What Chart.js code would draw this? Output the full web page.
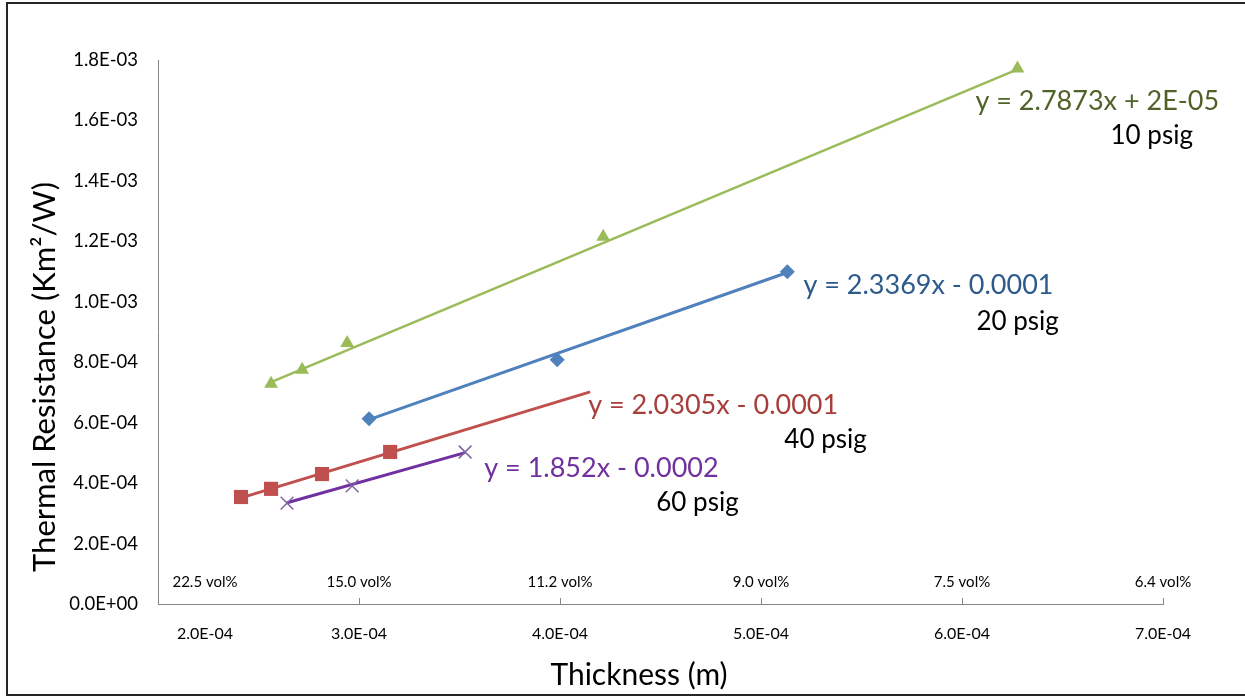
<!DOCTYPE html>
<html>
<head>
<meta charset="utf-8">
<script src="https://cdn.jsdelivr.net/npm/chart.js@4.4.1/dist/chart.umd.min.js"></script>
<style>
    html, body { margin: 0; padding: 0; background: #fff; }
    #frame {
        position: absolute; left: 6px; top: 2px; width: 1260px; height: 690px;
        border-left: 2px solid #262626; border-top: 2px solid #262626; border-bottom: 2px solid #262626;
    }
    #chart { position: absolute; left: 0; top: 0; }
</style>
</head>
<body>
<div id="frame"></div>
<canvas id="chart" width="1245" height="696"></canvas>
<script>
// DATA (thickness in m, thermal resistance in Km2/W)
const psig10X = [2.5625e-4, 2.717e-4, 2.941e-4, 4.215e-4, 6.276e-4];
const psig10Y = [7.29e-4, 7.75e-4, 8.64e-4, 1.215e-3, 1.772e-3];
const psig20X = [3.05e-4, 3.986e-4, 5.131e-4];
const psig20Y = [6.13e-4, 8.08e-4, 1.099e-3];
const psig40X = [2.413e-4, 2.5625e-4, 2.816e-4, 3.155e-4];
const psig40Y = [3.54e-4, 3.81e-4, 4.30e-4, 5.03e-4];
const psig60X = [2.642e-4, 2.966e-4, 3.528e-4];
const psig60Y = [3.34e-4, 3.91e-4, 5.03e-4];

// trendline ends
const trend10X = [2.5625e-4, 6.276e-4];
const trend10Y = [7.34e-4, 1.769e-3];
const trend20X = [3.05e-4, 5.131e-4];
const trend20Y = [6.10e-4, 1.097e-3];
const trend40X = [2.413e-4, 4.150e-4];
const trend40Y = [3.51e-4, 7.02e-4];
const trend60X = [2.642e-4, 3.528e-4];
const trend60Y = [3.35e-4, 5.01e-4];

const xTicks = [2e-4, 3e-4, 4e-4, 5e-4, 6e-4, 7e-4];
const volLabels = ['22.5 vol%', '15.0 vol%', '11.2 vol%', '9.0 vol%', '7.5 vol%', '6.4 vol%'];

const equations = ['y = 2.7873x + 2E-05', 'y = 2.3369x - 0.0001', 'y = 2.0305x - 0.0001', 'y = 1.852x - 0.0002'];
const seriesNames = ['10 psig', '20 psig', '40 psig', '60 psig'];

const GREEN = '#9bbb59', BLUE = '#4f81bd', RED = '#c0504d', PURPLE = '#7030a0';
const FONT = 'Lato, "Open Sans", sans-serif';

function pts(xs, ys) {
    return xs.map(function (x, i) { return { x: x, y: ys[i] }; });
}

function sci(v) {
    let parts = v.toExponential(1).split('e');
    let n = parseInt(parts[1], 10);
    return parts[0] + 'E' + (n < 0 ? '-' : '+') + String(Math.abs(n)).padStart(2, '0');
}

// labels placed in data space: [text, x, y, color, size]
const notes = [
    [equations[0], 6.067e-4, 1.662e-3, '#4f6228', 27],
    [seriesNames[0], 6.739e-4, 1.550e-3, '#000', 26],
    [equations[1], 5.211e-4, 1.056e-3, '#2c5a8c', 27],
    [seriesNames[1], 6.072e-4, 9.34e-4, '#000', 26],
    [equations[2], 4.140e-4, 6.59e-4, '#a83e3b', 27],
    [seriesNames[2], 5.116e-4, 5.43e-4, '#000', 26],
    [equations[3], 3.623e-4, 4.50e-4, '#7030a0', 27],
    [seriesNames[3], 4.479e-4, 3.34e-4, '#000', 26]
];

const overlay = {
    id: 'overlay',
    afterDraw: function (chart) {
        const ctx = chart.ctx;
        const xs = chart.scales.x;
        const ys = chart.scales.y;
        const base = ys.getPixelForValue(0);
        ctx.save();

        // small tick marks pointing up
        ctx.strokeStyle = '#868686';
        ctx.lineWidth = 1;
        xTicks.forEach(function (t, i) {
            if (i === 0) return;
            const px = Math.round(xs.getPixelForValue(t)) + 0.5;
            ctx.beginPath();
            ctx.moveTo(px, base);
            ctx.lineTo(px, base - 6);
            ctx.stroke();
        });

        // tick labels + vol% labels
        ctx.textAlign = 'center';
        ctx.textBaseline = 'middle';
        xTicks.forEach(function (t, i) {
            let px = xs.getPixelForValue(t);
            if (i === 0) px += 47;
            ctx.fillStyle = '#000';
            ctx.font = '16px ' + FONT;
            ctx.fillText(sci(t), px, base + 30);
            ctx.font = '15px ' + FONT;
            ctx.fillText(volLabels[i], px, base - 22);
        });

        // axis titles
        ctx.font = '30px ' + FONT;
        ctx.fillText('Thickness (m)', 639, 675);
        ctx.save();
        ctx.translate(45, 377);
        ctx.rotate(-Math.PI / 2);
        ctx.font = '31px ' + FONT;
        ctx.fillText('Thermal Resistance (Km²/W)', 0, 0);
        ctx.restore();

        // equations and series names
        ctx.textAlign = 'left';
        notes.forEach(function (n) {
            ctx.fillStyle = n[3];
            ctx.font = n[4] + 'px ' + FONT;
            ctx.fillText(n[0], xs.getPixelForValue(n[1]), ys.getPixelForValue(n[2]));
        });
        ctx.restore();
    }
};

function trendSet(xs, ys, color, width) {
    return {
        data: pts(xs, ys), showLine: true, borderColor: color, borderWidth: width,
        pointRadius: 0, order: 2
    };
}

function markSet(xs, ys, color, style, r) {
    return {
        data: pts(xs, ys), showLine: false, pointStyle: style, pointRadius: r,
        backgroundColor: color, borderColor: color, borderWidth: style === 'crossRot' ? 1.5 : 0,
        order: 1
    };
}

new Chart(document.getElementById('chart'), {
    type: 'scatter',
    data: {
        datasets: [
            trendSet(trend10X, trend10Y, GREEN, 2.5),
            trendSet(trend20X, trend20Y, BLUE, 3),
            trendSet(trend40X, trend40Y, RED, 3),
            trendSet(trend60X, trend60Y, PURPLE, 3),
            markSet(psig10X, psig10Y, GREEN, 'triangle', 8),
            markSet(psig20X, psig20Y, BLUE, 'rectRot', 7.5),
            markSet(psig40X, psig40Y, RED, 'rect', 10),
            markSet(psig60X, psig60Y, '#8064a2', 'crossRot', 9)
        ]
    },
    options: {
        responsive: false,
        animation: false,
        devicePixelRatio: 1,
        layout: { padding: { left: 0, right: 82, top: 60, bottom: 0 } },
        plugins: { legend: { display: false }, tooltip: { enabled: false } },
        scales: {
            x: {
                type: 'linear', min: 2e-4, max: 7e-4,
                afterFit: function (s) { s.height = 92; },
                grid: { display: false, drawTicks: false },
                border: { color: '#868686', width: 1 },
                ticks: { display: false, stepSize: 1e-4 }
            },
            y: {
                min: 0, max: 1.8e-3,
                afterFit: function (s) { s.width = 158; },
                grid: { display: false, drawTicks: false },
                border: { color: '#868686', width: 1 },
                ticks: {
                    stepSize: 2e-4, padding: 20, color: '#000',
                    font: { family: FONT, size: 18.5 },
                    callback: function (v) { return sci(v); }
                }
            }
        }
    },
    plugins: [overlay]
});
</script>
</body>
</html>
